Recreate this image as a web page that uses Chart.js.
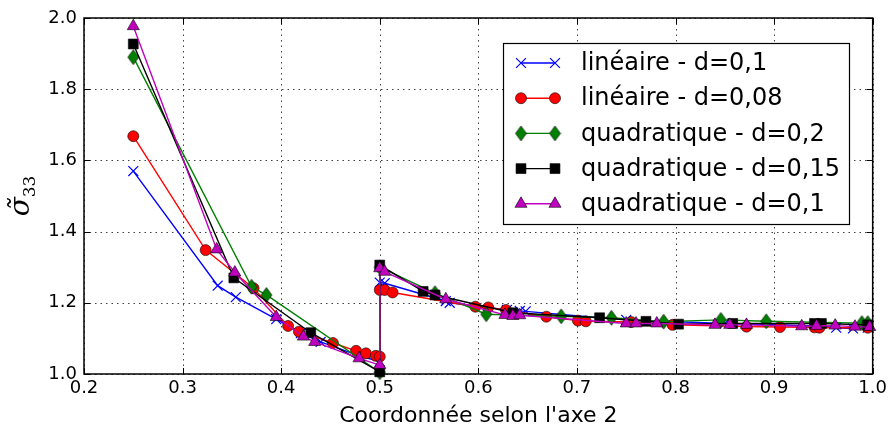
<!DOCTYPE html>
<html>
<head>
<meta charset="utf-8">
<script src="https://cdn.jsdelivr.net/npm/chart.js@4.4.0/dist/chart.umd.min.js"></script>
<style>
  html, body { margin: 0; padding: 0; background: #fff; }
  #wrap { width: 891px; height: 434px; }
</style>
</head>
<body>
<div id="wrap"><canvas id="sigmaChart" width="891" height="434"></canvas></div>
<script>
// Data
let xTicks = [0.2, 0.3, 0.4, 0.5, 0.6, 0.7, 0.8, 0.9, 1.0];
let yTicks = [1.0, 1.2, 1.4, 1.6, 1.8, 2.0];

let seriesLabels = [
  "linéaire - d=0,1",
  "linéaire - d=0,08",
  "quadratique - d=0,2",
  "quadratique - d=0,15",
  "quadratique - d=0,1",
];

let lin01_x = [0.25, 0.3356, 0.354, 0.395, 0.42, 0.44, 0.48, 0.5, 0.5, 0.505, 0.567, 0.571, 0.629, 0.642, 0.648, 0.75, 0.85, 0.945, 0.963, 0.98, 0.995];
let lin01_y = [1.57, 1.248, 1.216, 1.154, 1.115, 1.09, 1.05, 1.035, 1.257, 1.255, 1.205, 1.2, 1.18, 1.177, 1.176, 1.152, 1.142, 1.135, 1.13, 1.128, 1.13];

let lin008_x = [0.25, 0.3234, 0.372, 0.407, 0.418, 0.4525, 0.476, 0.486, 0.496, 0.5, 0.5, 0.505, 0.513, 0.597, 0.61, 0.628, 0.669, 0.701, 0.709, 0.755, 0.797, 0.872, 0.906, 0.941, 0.946, 0.995];
let lin008_y = [1.668, 1.348, 1.241, 1.135, 1.119, 1.087, 1.065, 1.058, 1.051, 1.049, 1.236, 1.236, 1.229, 1.189, 1.187, 1.18, 1.161, 1.15, 1.148, 1.146, 1.138, 1.133, 1.132, 1.131, 1.13, 1.13];

let quad02_x = [0.25, 0.37, 0.385, 0.5, 0.5, 0.556, 0.608, 0.684, 0.735, 0.788, 0.846, 0.892, 0.989, 0.995];
let quad02_y = [1.89, 1.245, 1.222, 1.005, 1.30, 1.227, 1.168, 1.162, 1.158, 1.147, 1.152, 1.148, 1.143, 1.143];

let quad015_x = [0.25, 0.352, 0.43, 0.5, 0.5, 0.544, 0.556, 0.635, 0.723, 0.77, 0.803, 0.858, 0.941, 0.948, 0.995];
let quad015_y = [1.927, 1.27, 1.116, 1.006, 1.306, 1.232, 1.222, 1.172, 1.158, 1.148, 1.14, 1.142, 1.142, 1.142, 1.138];

let quad01_x = [0.25, 0.3346, 0.353, 0.395, 0.4225, 0.434, 0.479, 0.5, 0.5, 0.505, 0.567, 0.627, 0.635, 0.642, 0.75, 0.76, 0.781, 0.84, 0.855, 0.872, 0.928, 0.943, 0.962, 0.982, 0.997];
let quad01_y = [1.977, 1.35, 1.285, 1.16, 1.105, 1.09, 1.044, 1.025, 1.297, 1.287, 1.21, 1.166, 1.163, 1.165, 1.142, 1.142, 1.142, 1.138, 1.138, 1.138, 1.134, 1.135, 1.136, 1.133, 1.132];

function toPoints(xs, ys) {
  return xs.map((x, i) => ({ x: x, y: ys[i] }));
}

// thin diamond marker (matplotlib 'd')
function makeDiamond(w, h, fill) {
  let c = document.createElement("canvas");
  c.width = w + 2;
  c.height = h + 2;
  let g = c.getContext("2d");
  g.beginPath();
  g.moveTo(c.width / 2, 1);
  g.lineTo(c.width - 1, c.height / 2);
  g.lineTo(c.width / 2, c.height - 1);
  g.lineTo(1, c.height / 2);
  g.closePath();
  g.fillStyle = fill;
  g.fill();
  g.lineWidth = 0.6;
  g.strokeStyle = "#000";
  g.stroke();
  return c;
}
let diamondImg = makeDiamond(11, 15, "#008000");

let seriesStyles = [
  { color: "#0000ff", pointStyle: "crossRot", radius: 7, fill: "#0000ff", edge: "#0000ff", edgeWidth: 1.2 },
  { color: "#ff0000", pointStyle: "circle", radius: 5.5, fill: "#ff0000", edge: "#000", edgeWidth: 0.6 },
  { color: "#008000", pointStyle: diamondImg, radius: 6, fill: "#008000", edge: "#000", edgeWidth: 0.6 },
  { color: "#000000", pointStyle: "rect", radius: 7, fill: "#000000", edge: "#000", edgeWidth: 0.6 },
  { color: "#bf00bf", pointStyle: "triangle", radius: 7, fill: "#bf00bf", edge: "#000", edgeWidth: 0.6 },
];

let seriesData = [
  toPoints(lin01_x, lin01_y),
  toPoints(lin008_x, lin008_y),
  toPoints(quad02_x, quad02_y),
  toPoints(quad015_x, quad015_y),
  toPoints(quad01_x, quad01_y),
];

let datasets = seriesData.map((pts, i) => {
  let s = seriesStyles[i];
  return {
    label: seriesLabels[i],
    data: pts,
    borderColor: s.color,
    borderWidth: 1.4,
    pointStyle: s.pointStyle,
    pointRadius: s.radius,
    pointBackgroundColor: s.fill,
    pointBorderColor: s.edge,
    pointBorderWidth: s.edgeWidth,
    showLine: true,
    tension: 0,
    clip: false,
    order: 5 - i,
  };
});

// draw a marker by hand for the legend
function drawMarker(ctx, i, x, y) {
  let s = seriesStyles[i];
  ctx.save();
  ctx.fillStyle = s.fill;
  ctx.strokeStyle = s.edge;
  ctx.lineWidth = s.edgeWidth;
  let r = s.radius;
  ctx.beginPath();
  if (s.pointStyle === "crossRot") {
    let d = r * Math.SQRT1_2;
    ctx.moveTo(x - d, y - d); ctx.lineTo(x + d, y + d);
    ctx.moveTo(x - d, y + d); ctx.lineTo(x + d, y - d);
    ctx.stroke();
  } else if (s.pointStyle === "circle") {
    ctx.arc(x, y, r, 0, Math.PI * 2);
    ctx.fill(); ctx.stroke();
  } else if (s.pointStyle === "rect") {
    let h = r * Math.SQRT1_2;
    ctx.rect(x - h, y - h, 2 * h, 2 * h);
    ctx.fill(); ctx.stroke();
  } else if (s.pointStyle === "triangle") {
    ctx.moveTo(x, y - r);
    ctx.lineTo(x + r * 0.866, y + r * 0.5);
    ctx.lineTo(x - r * 0.866, y + r * 0.5);
    ctx.closePath();
    ctx.fill(); ctx.stroke();
  } else {
    ctx.drawImage(s.pointStyle, x - s.pointStyle.width / 2, y - s.pointStyle.height / 2);
  }
  ctx.restore();
}

let framePlugin = {
  id: "framePlugin",
  beforeDatasetsDraw(chart) {
    let ctx = chart.ctx;
    let a = chart.chartArea;
    let xs = chart.scales.x, ys = chart.scales.y;
    ctx.save();
    ctx.strokeStyle = "rgba(0,0,0,0.75)";
    ctx.lineWidth = 1;
    ctx.setLineDash([1.5, 4]);
    xTicks.forEach((v) => {
      let px = Math.round(xs.getPixelForValue(v)) + 0.5;
      ctx.beginPath(); ctx.moveTo(px, a.top); ctx.lineTo(px, a.bottom); ctx.stroke();
    });
    yTicks.forEach((v) => {
      let py = Math.round(ys.getPixelForValue(v)) + 0.5;
      ctx.beginPath(); ctx.moveTo(a.left, py); ctx.lineTo(a.right, py); ctx.stroke();
    });
    ctx.restore();
  },
  afterDraw(chart) {
    let ctx = chart.ctx;
    let a = chart.chartArea;
    let xs = chart.scales.x, ys = chart.scales.y;
    ctx.save();
    // frame and inward ticks
    ctx.strokeStyle = "#000";
    ctx.lineWidth = 1.5;
    ctx.strokeRect(a.left, a.top, a.right - a.left, a.bottom - a.top);
    ctx.lineWidth = 1;
    let tl = 6;
    xTicks.forEach((v) => {
      let px = Math.round(xs.getPixelForValue(v)) + 0.5;
      ctx.beginPath();
      ctx.moveTo(px, a.bottom); ctx.lineTo(px, a.bottom - tl);
      ctx.moveTo(px, a.top); ctx.lineTo(px, a.top + tl);
      ctx.stroke();
    });
    yTicks.forEach((v) => {
      let py = Math.round(ys.getPixelForValue(v)) + 0.5;
      ctx.beginPath();
      ctx.moveTo(a.left, py); ctx.lineTo(a.left + tl, py);
      ctx.moveTo(a.right, py); ctx.lineTo(a.right - tl, py);
      ctx.stroke();
    });

    // legend
    let lx = 503, ly = 43, lw = 346, lh = 181;
    ctx.fillStyle = "#fff";
    ctx.fillRect(lx, ly, lw, lh);
    ctx.lineWidth = 1.2;
    ctx.strokeStyle = "#000";
    ctx.strokeRect(lx + 0.5, ly + 0.5, lw, lh);
    ctx.font = "24px 'DejaVu Sans'";
    ctx.textBaseline = "middle";
    ctx.textAlign = "left";
    seriesLabels.forEach((lab, i) => {
      let cy = 63 + i * 35.2;
      ctx.strokeStyle = seriesStyles[i].color;
      ctx.lineWidth = 1.4;
      ctx.beginPath(); ctx.moveTo(521, cy); ctx.lineTo(555, cy); ctx.stroke();
      drawMarker(ctx, i, 521, cy);
      drawMarker(ctx, i, 555, cy);
      ctx.fillStyle = "#000";
      ctx.fillText(lab, 581, cy + 1);
    });

    // axis titles
    ctx.fillStyle = "#000";
    ctx.textAlign = "center";
    ctx.textBaseline = "alphabetic";
    ctx.font = "22px 'DejaVu Sans'";
    ctx.fillText("Coordonnée selon l'axe 2", (a.left + a.right) / 2, 422);

    ctx.save();
    ctx.translate(29, (a.top + a.bottom) / 2);
    ctx.rotate(-Math.PI / 2);
    ctx.textAlign = "left";
    ctx.font = "italic 28px 'DejaVu Serif'";
    let sig = "σ̃";
    let w1 = ctx.measureText(sig).width;
    ctx.font = "17px 'DejaVu Serif'";
    let w2 = ctx.measureText("33").width;
    let start = -(w1 + w2) / 2;
    ctx.font = "italic 28px 'DejaVu Serif'";
    ctx.fillText(sig, start, 0);
    ctx.font = "17px 'DejaVu Serif'";
    ctx.fillText("33", start + w1, 6);
    ctx.restore();

    ctx.restore();
  },
};

let ctx = document.getElementById("sigmaChart").getContext("2d");

let myChart = new Chart(ctx, {
  type: "scatter",
  data: { datasets: datasets },
  options: {
    responsive: false,
    animation: false,
    layout: { padding: { top: 18, right: 18, left: 0, bottom: 0 } },
    plugins: {
      legend: { display: false },
      tooltip: { enabled: false },
    },
    scales: {
      x: {
        type: "linear",
        min: 0.2,
        max: 1.0,
        afterFit: (scale) => { scale.height = 60; },
        afterBuildTicks: (scale) => { scale.ticks = xTicks.map((v) => ({ value: v })); },
        grid: { display: false, drawTicks: false },
        border: { display: false },
        ticks: {
          padding: 4,
          color: "#000",
          font: { family: "'DejaVu Sans'", size: 18 },
          callback: (v) => v.toFixed(1),
          maxRotation: 0,
        },
      },
      y: {
        type: "linear",
        min: 1.0,
        max: 2.0,
        afterFit: (scale) => { scale.width = 84; },
        afterBuildTicks: (scale) => { scale.ticks = yTicks.map((v) => ({ value: v })); },
        grid: { display: false, drawTicks: false },
        border: { display: false },
        ticks: {
          padding: 7,
          color: "#000",
          font: { family: "'DejaVu Sans'", size: 18 },
          callback: (v) => v.toFixed(1),
        },
      },
    },
  },
  plugins: [framePlugin],
});
</script>
</body>
</html>
